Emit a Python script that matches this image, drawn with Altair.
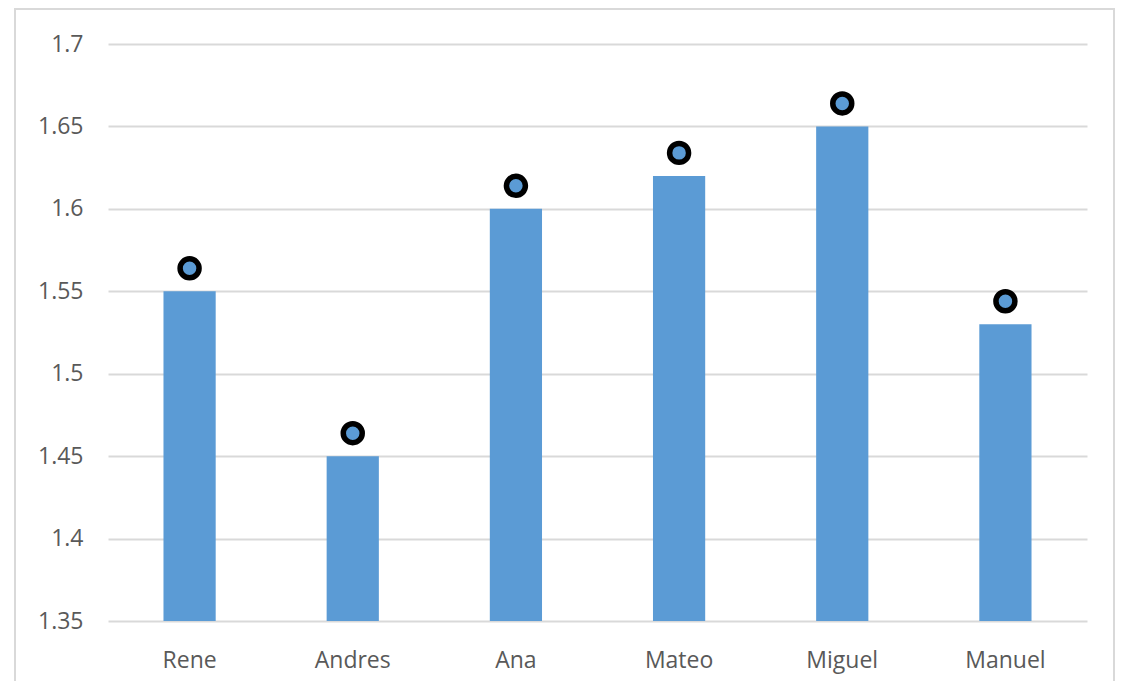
import altair as alt
import pandas as pd

names = ["Rene", "Andres", "Ana", "Mateo", "Miguel", "Manuel"]
heights = [1.55, 1.45, 1.60, 1.62, 1.65, 1.53]
y_ticks = [1.35, 1.4, 1.45, 1.5, 1.55, 1.6, 1.65, 1.7]

df = pd.DataFrame({"name": names, "h": heights})

W, H = 979, 577
font = "Open Sans"

x_enc = alt.X("name:N", sort=names, title=None,
              scale=alt.Scale(paddingInner=0.68, paddingOuter=0.34),
              axis=alt.Axis(labelAngle=0, labelFontSize=23, labelColor="#595959",
                            labelFont=font, ticks=False, domain=False, labelPadding=28,
                            grid=False))
y_enc = alt.Y("h:Q", title=None,
              scale=alt.Scale(domain=[1.35, 1.7], zero=False, nice=False),
              axis=alt.Axis(values=y_ticks, labelFontSize=23, labelColor="#595959",
                            labelFont=font, ticks=False, domain=False, labelPadding=25,
                            gridColor="#d9d9d9", gridWidth=2, format="~g"))

base = alt.Chart(df)

bars = base.mark_bar(color="#5b9bd5").encode(
    x=x_enc, y=y_enc, y2=alt.datum(1.35))

dots = base.mark_point(shape="circle", filled=False, fill="#5b9bd5", fillOpacity=1,
                       stroke="black", strokeWidth=5.5, size=360, opacity=1,
                       yOffset=-23).encode(x=x_enc, y=y_enc)

border = alt.Chart(pd.DataFrame({"a": [0]})).mark_rect(
    fill="transparent", stroke="#d9d9d9", strokeWidth=2).encode(
    x=alt.value(-93), x2=alt.value(1006), y=alt.value(-35), y2=alt.value(H + 90))

chart = alt.layer(border, bars, dots).properties(
    width=W, height=H,
    autosize=alt.AutoSizeParams(type="none"),
    padding={"left": 100, "top": 36, "right": 28, "bottom": 60},
).configure(background="white").configure_view(stroke="transparent", strokeWidth=0)

chart.save("out.html", embed_options={"renderer": "svg", "actions": False})
